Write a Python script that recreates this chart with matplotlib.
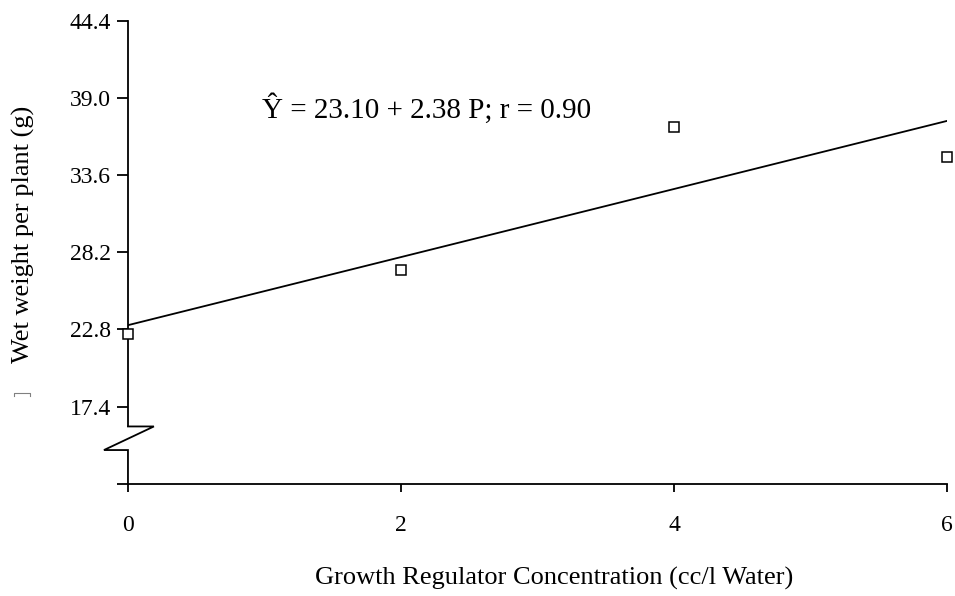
import matplotlib.pyplot as plt
import numpy as np
from matplotlib.lines import Line2D

# data
conc = [0, 2, 4, 6]
wet_weight = [22.45, 26.95, 36.95, 34.85]
intercept = 23.10
slope = 2.38
y_ticks = [12.0, 17.4, 22.8, 28.2, 33.6, 39.0, 44.4]
y_ticklabels = ['', '17.4', '22.8', '28.2', '33.6', '39.0', '44.4']
x_ticks = [0, 2, 4, 6]

plt.rcParams['font.family'] = ['Liberation Serif', 'DejaVu Serif']
fs = 17

fig = plt.figure(figsize=(9.55, 5.96), dpi=100)
ax = fig.add_axes([0.134, 0.188, 0.8576, 0.7776])

# points and fitted line
ax.plot(conc, wet_weight, linestyle='none', marker='s', markersize=7,
        markerfacecolor='white', markeredgecolor='black', markeredgewidth=1.1,
        clip_on=False, zorder=3)
xf = np.array([conc[0], conc[-1]])
ax.plot(xf, intercept + slope * xf, color='black', linewidth=1.3)

ax.text(0.98, 38.25, 'Ŷ = 23.10 + 2.38 P; r = 0.90', fontsize=21, va='center')

ax.set_xlim(0, 6)
ax.set_ylim(12.0, 44.4)
ax.set_xticks(x_ticks)
ax.set_xticklabels([str(v) for v in x_ticks], fontsize=fs)
ax.set_yticks(y_ticks)
ax.set_yticklabels(y_ticklabels, fontsize=fs)
ax.tick_params(axis='x', direction='out', length=6, width=1.3, pad=16)
ax.tick_params(axis='y', direction='out', length=8, width=1.3, pad=4)

ax.spines['top'].set_visible(False)
ax.spines['right'].set_visible(False)
ax.spines['left'].set_linewidth(1.3)
ax.spines['bottom'].set_linewidth(1.3)

# axis break on the y axis
ax.spines['left'].set_bounds(16.02, 44.4)
bx = [0, 0.19, -0.176, 0, 0]
by = [16.02, 16.02, 14.37, 14.37, 12.0]
ax.plot(bx, by, color='black', linewidth=1.3, clip_on=False,
        solid_joinstyle='miter')

# axis titles
fig.text(554/955, 1-578/596, 'Growth Regulator Concentration (cc/l Water)',
         fontsize=19, ha='center', va='center')
fig.text(23/955, 1-234/596, 'Wet weight per plant (g)', fontsize=19,
         rotation=90, ha='center', va='center')

# small stray mark left of the y label
fig.add_artist(Line2D([14/955, 14/955, 30/955, 30/955],
                      [1-396/596, 1-393/596, 1-393/596, 1-396/596],
                      color='gray', linewidth=0.8))

fig.savefig('out.png', dpi=100)
